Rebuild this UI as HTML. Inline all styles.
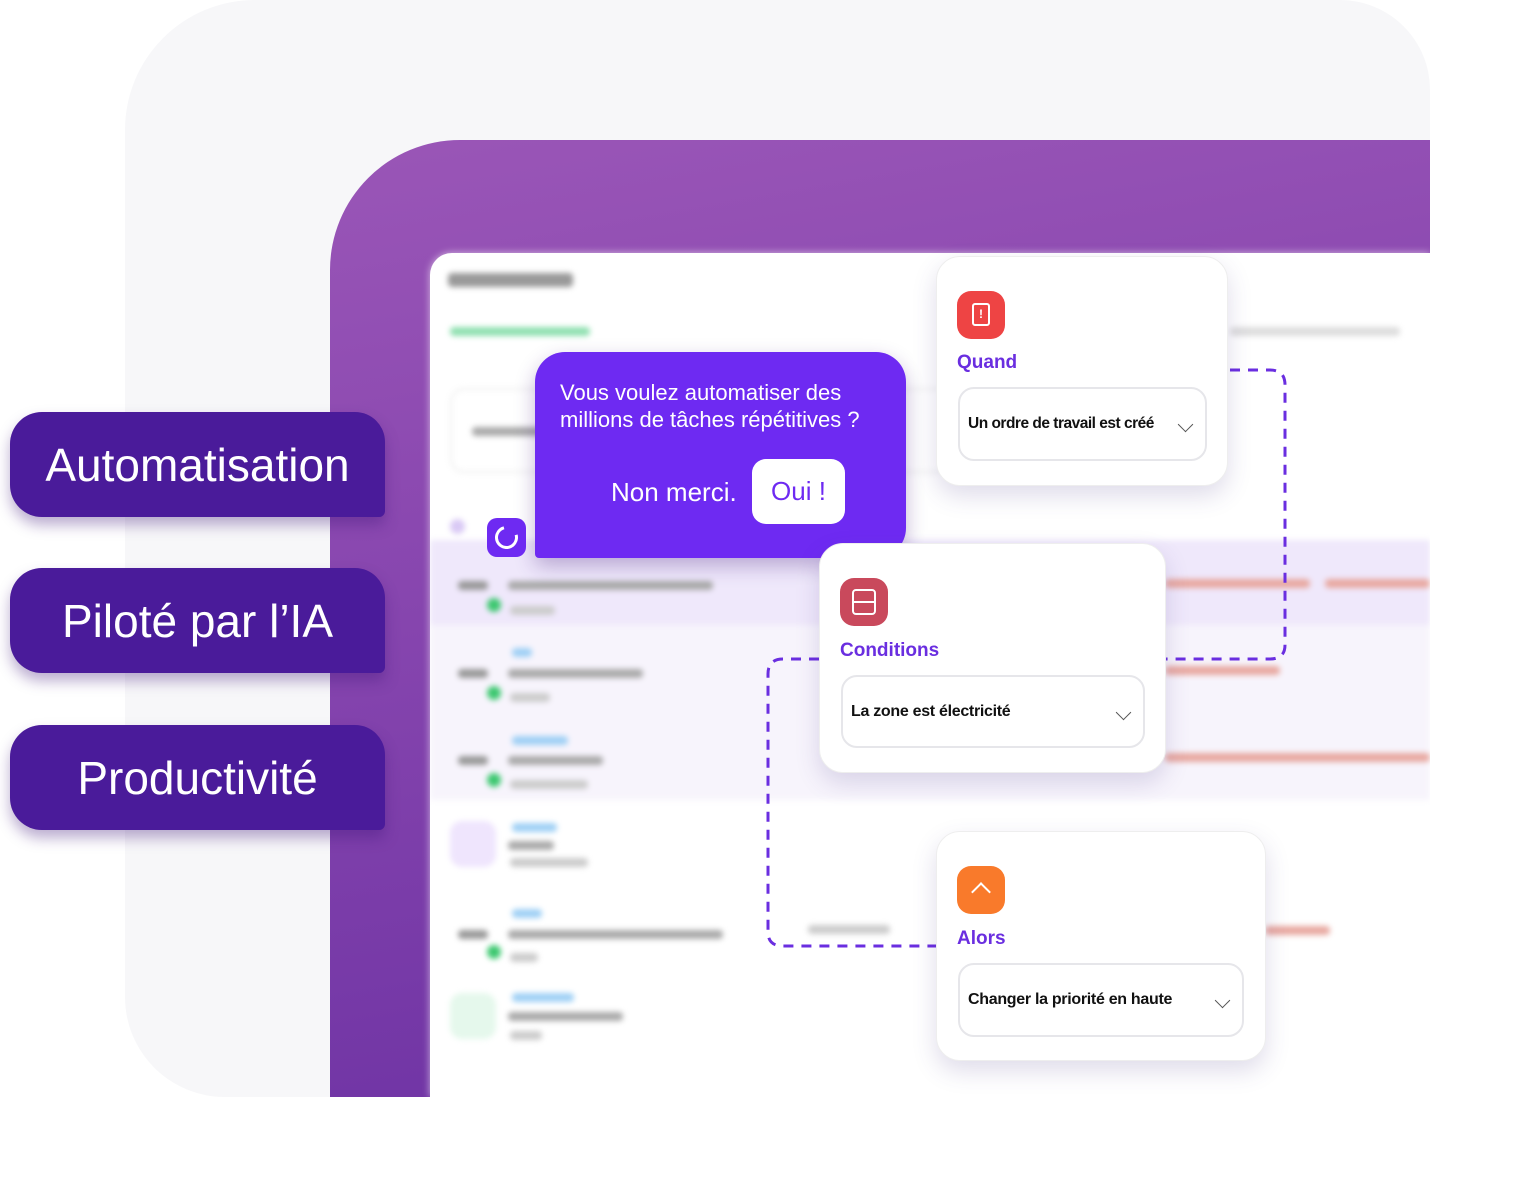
<!DOCTYPE html>
<html><head><meta charset="utf-8"><style>
*{margin:0;padding:0;box-sizing:border-box}
body{width:1536px;height:1189px;background:#fff;position:relative;overflow:hidden;font-family:"Liberation Sans",sans-serif}
.abs{position:absolute}
.pill{position:absolute;left:10px;width:375px;height:105px;background:#4a1b9a;border-radius:32px 30px 6px 32px;color:#fff;font-size:46px;display:flex;align-items:center;justify-content:center;box-shadow:0 8px 14px rgba(60,20,120,.35)}
.card{position:absolute;background:#fff;border-radius:24px;box-shadow:0 10px 24px rgba(80,60,140,.18);border:1px solid #eee}
.ico{position:absolute;left:20px;top:34px;width:48px;height:48px;border-radius:14px}
.lbl{position:absolute;left:20px;color:#6a2ee0;font-weight:bold;font-size:19px}
.dd{position:absolute;left:21px;height:74px;border:2px solid #e6e6ea;border-radius:16px;font-size:16px;font-weight:bold;color:#111;padding-left:8px;display:flex;align-items:center;letter-spacing:-0.3px}
.chev{position:absolute;right:14px;top:30px;width:11px;height:11px;border-right:1.5px solid #555;border-bottom:1.5px solid #555;transform:rotate(45deg)}
.blur{filter:blur(3px)}
.bar{position:absolute;height:9px;border-radius:4px}
</style></head><body>
<div class="abs" style="left:125px;top:0;width:1305px;height:1097px;background:#f7f7f9;border-radius:130px 90px 0 100px"></div>
<div class="abs" style="left:330px;top:140px;width:1100px;height:957px;border-radius:130px 0 0 0;background:linear-gradient(170deg,#9a56b7 0%,#8a48b0 35%,#6a30a2 100%)"></div>
<div class="abs" style="left:430px;top:253px;width:1000px;height:844px;background:#fff;border-radius:22px 0 0 0;overflow:hidden;box-shadow:0 0 8px rgba(255,255,255,.6)">
 <div class="blur">
  <div class="bar" style="left:18px;top:20px;width:125px;height:14px;background:#999"></div>
  <div class="bar" style="left:20px;top:74px;width:140px;background:#8fe0b0"></div>
  <div class="abs" style="left:20px;top:135px;width:500px;height:85px;border:2px solid #eee;border-radius:14px"></div>
  <div class="bar" style="left:42px;top:174px;width:80px;background:#aaa"></div>
  <div class="bar" style="left:800px;top:74px;width:170px;background:#ddd"></div>
  <div class="abs" style="left:0;top:287px;width:1000px;height:85px;background:#efe8fb"></div>
  <div class="abs" style="left:0;top:372px;width:1000px;height:87px;background:#f7f4fc"></div>
  <div class="abs" style="left:0;top:459px;width:1000px;height:88px;background:#f7f4fc"></div>
  <div class="abs" style="left:20px;top:266px;width:15px;height:15px;border-radius:50%;background:#d9c9f5"></div>
  <div class="bar" style="left:28px;top:328px;width:30px;background:#999"></div><div class="abs" style="left:57px;top:345px;width:14px;height:14px;border-radius:50%;background:#3dc870"></div>
  <div class="bar" style="left:78px;top:328px;width:205px;background:#aaa"></div><div class="bar" style="left:80px;top:353px;width:45px;background:#ccc"></div>
  <div class="bar" style="left:28px;top:416px;width:30px;background:#999"></div><div class="abs" style="left:57px;top:433px;width:14px;height:14px;border-radius:50%;background:#3dc870"></div>
  <div class="bar" style="left:78px;top:416px;width:135px;background:#aaa"></div><div class="bar" style="left:80px;top:440px;width:40px;background:#ccc"></div><div class="bar" style="left:82px;top:395px;width:20px;background:#9fd0f5"></div>
  <div class="bar" style="left:28px;top:503px;width:30px;background:#999"></div><div class="abs" style="left:57px;top:520px;width:14px;height:14px;border-radius:50%;background:#3dc870"></div>
  <div class="bar" style="left:78px;top:503px;width:95px;background:#aaa"></div><div class="bar" style="left:80px;top:527px;width:78px;background:#ccc"></div><div class="bar" style="left:82px;top:483px;width:56px;background:#9fd0f5"></div>
  <div class="abs" style="left:20px;top:568px;width:46px;height:46px;border-radius:12px;background:#efe5fd"></div>
  <div class="bar" style="left:78px;top:588px;width:46px;background:#aaa"></div><div class="bar" style="left:80px;top:605px;width:78px;background:#ccc"></div><div class="bar" style="left:82px;top:570px;width:45px;background:#9fd0f5"></div>
  <div class="bar" style="left:28px;top:677px;width:30px;background:#999"></div><div class="abs" style="left:57px;top:692px;width:14px;height:14px;border-radius:50%;background:#3dc870"></div>
  <div class="bar" style="left:78px;top:677px;width:215px;background:#aaa"></div><div class="bar" style="left:80px;top:700px;width:28px;background:#ccc"></div><div class="bar" style="left:82px;top:656px;width:30px;background:#9fd0f5"></div>
  <div class="abs" style="left:20px;top:740px;width:46px;height:46px;border-radius:12px;background:#e5f8ec"></div>
  <div class="bar" style="left:78px;top:759px;width:115px;background:#aaa"></div><div class="bar" style="left:80px;top:778px;width:32px;background:#ccc"></div><div class="bar" style="left:82px;top:740px;width:62px;background:#9fd0f5"></div>
  <div class="bar" style="left:378px;top:672px;width:82px;background:#ccc"></div>
  <div class="bar" style="left:735px;top:326px;width:145px;background:#e8a8a0"></div><div class="bar" style="left:895px;top:326px;width:105px;background:#e8a8a0"></div>
  <div class="bar" style="left:735px;top:413px;width:115px;background:#e8a8a0"></div>
  <div class="bar" style="left:735px;top:500px;width:265px;background:#e8a8a0"></div>
  <div class="bar" style="left:835px;top:673px;width:65px;background:#e8a8a0"></div>
 </div>
</div>
<div class="pill" style="top:412px">Automatisation</div>
<div class="pill" style="top:568px">Piloté par l’IA</div>
<div class="pill" style="top:725px">Productivité</div>
<svg class="abs" style="left:0;top:0" width="1536" height="1189"><g fill="none" stroke="#6a2ee0" stroke-width="3" stroke-dasharray="10 8">
<path d="M1230 370 H1270 Q1285 370 1285 385 V645 Q1285 659 1270 659 H1165"/>
<path d="M819 659 H783 Q768 659 768 674 V932 Q768 946 783 946 H936"/></g></svg>
<div class="abs" style="left:535px;top:352px;width:371px;height:206px;background:#6e2af2;border-radius:30px 30px 30px 4px;box-shadow:0 8px 20px rgba(60,20,120,.3);color:#fff">
 <div class="abs" style="left:25px;top:27px;font-size:22px;line-height:27px">Vous voulez automatiser des<br>millions de tâches répétitives ?</div>
 <div class="abs" style="left:76px;top:125px;font-size:26px">Non merci.</div>
 <div class="abs" style="left:217px;top:107px;width:93px;height:65px;background:#fff;border-radius:14px;color:#6e2af2;font-size:26px;display:flex;align-items:center;justify-content:center">Oui !</div>
</div>
<div class="abs" style="left:487px;top:518px;width:39px;height:39px;background:#6e2af2;border-radius:10px"><div class="abs" style="left:8px;top:8px;width:23px;height:23px;border:3px solid #fff;border-radius:50%;border-top-color:transparent;transform:rotate(30deg)"></div></div>
<div class="card" style="left:936px;top:256px;width:292px;height:230px">
 <div class="ico" style="background:#ee4444"><div class="abs" style="left:15px;top:12px;width:18px;height:23px;border:2px solid #fff;border-radius:3px;color:#fff;font-size:12px;text-align:center;line-height:18px;font-weight:bold">!</div></div>
 <div class="lbl" style="top:95px">Quand</div>
 <div class="dd" style="top:130px;width:249px;font-size:15.5px;letter-spacing:-0.5px">Un ordre de travail est créé<div class="chev"></div></div>
</div>
<div class="card" style="left:819px;top:543px;width:347px;height:230px">
 <div class="ico" style="background:#c9495c"><div class="abs" style="left:12px;top:11px;width:24px;height:26px;border:2px solid #fff;border-radius:4px"><div style="margin-top:10px;border-top:2px solid #fff"></div></div></div>
 <div class="lbl" style="top:96px">Conditions</div>
 <div class="dd" style="top:131px;width:304px;height:73px">La zone est électricité<div class="chev"></div></div>
</div>
<div class="card" style="left:936px;top:831px;width:330px;height:230px">
 <div class="ico" style="background:#f97a2b"><div class="abs" style="left:17px;top:19px;width:14px;height:14px;border-left:2px solid #fff;border-top:2px solid #fff;transform:rotate(45deg)"></div></div>
 <div class="lbl" style="top:96px">Alors</div>
 <div class="dd" style="top:131px;width:286px">Changer la priorité en haute<div class="chev"></div></div>
</div>
</body></html>
